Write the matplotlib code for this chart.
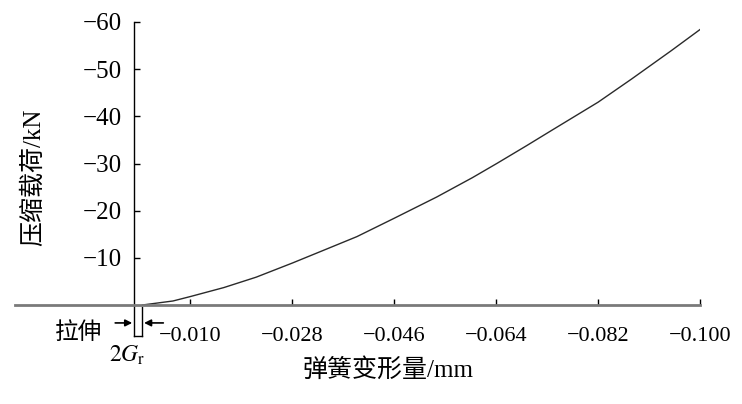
import matplotlib
matplotlib.use("Agg")
import matplotlib.pyplot as plt

plt.rcParams['font.family'] = ['Liberation Serif', 'Noto Sans CJK SC', 'DejaVu Sans']
plt.rcParams['mathtext.fontset'] = 'stix'

# data (deformation in mm, load in kN; compression negative)
deform = [-0.0015, -0.0069, -0.0100, -0.0159, -0.0216, -0.0280, -0.0331,
          -0.0394, -0.0460, -0.0535, -0.0598, -0.0641, -0.0694, -0.0739,
          -0.0820, -0.0879, -0.0949, -0.1000]
load = [0.0, -0.85, -1.8, -3.7, -5.9, -8.9, -11.4, -14.5, -18.4, -22.9,
        -27.0, -30.0, -33.8, -37.1, -43.0, -47.9, -53.9, -58.4]

xticks = [-0.010, -0.028, -0.046, -0.064, -0.082, -0.100]
xticklabels = ['\u22120.010', '\u22120.028', '\u22120.046', '\u22120.064', '\u22120.082', '\u22120.100']
yticks = [-10, -20, -30, -40, -50, -60]
yticklabels = ['\u221210', '\u221220', '\u221230', '\u221240', '\u221250', '\u221260']
gap = -0.0015  # 2G_r

fig = plt.figure(figsize=(7.42, 4.04), dpi=100)
ax = fig.add_axes([15/742, 99/404, 685/742, 283/404])

ax.plot(deform, load, color='#2a2a2a', lw=1.0)

ax.set_xlim(0.0210, -0.100)
ax.set_ylim(0, -60)

ax.spines['top'].set_visible(False)
ax.spines['right'].set_visible(False)
ax.spines['left'].set_position(('data', 0))
ax.spines['left'].set_color('black')
ax.spines['left'].set_linewidth(1.0)
ax.spines['bottom'].set_color('#7a7a7a')
ax.spines['bottom'].set_linewidth(2.0)

ax.set_xticks(xticks, labels=xticklabels)
ax.set_yticks(yticks, labels=yticklabels)
ax.tick_params(axis='x', direction='in', length=4, width=1, color='black',
               pad=16, labelsize=16)
ax.tick_params(axis='y', direction='in', length=4, width=1, color='black',
               pad=9, labelsize=18)

# 2G_r bracket below the axis
ax.plot([0, 0], [0, 6.6], color='black', lw=1.0, clip_on=False)
ax.plot([gap, gap], [0.4, 6.6], color='black', lw=1.0, clip_on=False)
ax.plot([0, gap], [6.6, 6.6], color='black', lw=1.0, clip_on=False)

ax.annotate('', xy=(0.0003, 3.8), xytext=(0.0033, 3.8),
            arrowprops=dict(arrowstyle='-|>', color='black', lw=1.2,
                            mutation_scale=10, shrinkA=0, shrinkB=0),
            annotation_clip=False)
ax.annotate('', xy=(-0.0018, 3.8), xytext=(-0.0052, 3.8),
            arrowprops=dict(arrowstyle='-|>', color='black', lw=1.2,
                            mutation_scale=10, shrinkA=0, shrinkB=0),
            annotation_clip=False)

fig.text(79/742, 1 - 333/404, '拉伸', fontsize=17, ha='center', va='center')
fig.text(127/742, 1 - 355/404, r'$2G_{\mathrm{r}}$', fontsize=17,
         ha='center', va='center')

fig.text(388/742, 1 - 370/404, '弹簧变形量/mm', fontsize=18,
         ha='center', va='center')
fig.text(33/742, 1 - 177/404, '压缩载荷/kN', fontsize=18, rotation=90,
         ha='center', va='center')

fig.savefig('out.png', dpi=100)
